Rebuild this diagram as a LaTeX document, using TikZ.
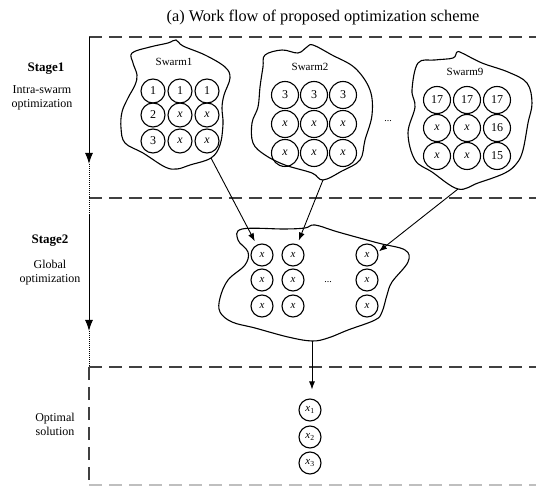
\documentclass[tikz,border=0pt]{standalone}
\usepackage{fontspec}
\setmainfont{Liberation Serif}
\usetikzlibrary{arrows.meta}
\tikzstyle{arrow} = [line width=0.9pt,-{Latex[length=8pt,width=6pt]}]
\tikzstyle{stagearrow} = [line width=1pt,-{Latex[length=11pt,width=8pt]}]
\tikzstyle{sep} = [line width=1.1pt,black!75,dash pattern=on 13pt off 7pt]
\tikzstyle{blob} = [line width=1.1pt]
\tikzstyle{particle} = [draw,circle,line width=1.1pt,inner sep=0pt,minimum size=27pt,font=\fontsize{12}{12}\selectfont]
\tikzstyle{small} = [particle,minimum size=22pt,font=\fontsize{11}{11}\selectfont]
\tikzstyle{label} = [align=center,font=\fontsize{12}{14}\selectfont]

\begin{document}
\begin{tikzpicture}[x=1pt,y=-1pt]
  \useasboundingbox (0,0) rectangle (536,486);

  \node[font=\fontsize{16.3}{16}\selectfont] (title) at (323,18) {(a) Work flow of proposed optimization scheme};

  % stage frames
  \draw[sep] (89,37) -- (536,37);
  \draw[sep] (89,198) -- (536,198);
  \draw[sep] (89,367) -- (536,367);
  \draw[sep,black!25] (89,485) -- (536,485);
  \draw[sep] (89,367) -- (89,486);

  \coordinate (st1a) at (89,37);
  \coordinate (st1b) at (89,164);
  \coordinate (st2a) at (89,215);
  \coordinate (st2b) at (89,331);
  \coordinate (st3a) at (89,367);
  \draw[stagearrow] (st1a) -- (st1b);
  \draw[line width=1pt,densely dotted] (st1b) -- (st2a);
  \draw[stagearrow] (st2a) -- (st2b);
  \draw[line width=1pt,densely dotted] (st2b) -- (st3a);

  \node[label,font=\fontsize{13}{14}\selectfont\bfseries] (stage1) at (46,69) {Stage1};
  \node[label] (desc1) at (42,98) {Intra-swarm\\optimization};
  \node[label,font=\fontsize{13}{14}\selectfont\bfseries] (stage2) at (50,241) {Stage2};
  \node[label] (desc2) at (50,273) {Global\\optimization};
  \node[label] (desc3) at (55,424) {Optimal\\solution};

  % swarm outlines
  \draw[blob] plot[smooth cycle,tension=0.6] coordinates {(132,53) (150,47) (168,43) (176,40) (183,46) (205,55) (225,67) (230,78) (224,95) (222,108) (223,124) (220,145) (211,158) (190,165) (177,169) (165,167) (143,153) (125,143) (121,128) (122,112) (128,98) (135,85) (137,75) (133,63)};
  \draw[blob] plot[smooth cycle,tension=0.6] coordinates {(265,55) (282,50) (298,53) (307,47) (313,45) (332,55) (355,68) (370,90) (372,115) (365,140) (360,160) (342,171) (323,180) (312,173) (285,165) (265,155) (253,143) (252,123) (258,107) (260,87) (263,67)};
  \draw[blob] plot[smooth cycle,tension=0.6] coordinates {(418,63) (435,60) (453,58) (457,52) (462,53) (482,63) (508,72) (527,83) (532,103) (528,123) (523,150) (517,163) (505,173) (478,183) (458,189) (432,172) (415,160) (408,133) (415,107) (412,90)};
  \draw[blob] plot[smooth cycle,tension=0.6] coordinates {(242,229) (285,229) (305,228) (315,225) (338,232) (378,243) (405,250) (408,262) (392,282) (387,295) (382,312) (375,320) (348,330) (328,338) (312,341) (288,337) (255,328) (232,322) (220,312) (220,298) (228,280) (245,265) (248,252) (238,240)};

  \coordinate (s1out) at (211,158);
  \coordinate (s2out) at (323,180);
  \coordinate (s9out) at (458,189);
  \coordinate (gout) at (312,341);

  \node[font=\fontsize{11}{11}\selectfont] (sw1) at (174,62) {Swarm1};
  \node[font=\fontsize{11}{11}\selectfont] (sw2) at (310,67) {Swarm2};
  \node[font=\fontsize{11}{11}\selectfont] (sw9) at (465,72) {Swarm9};
  \node[font=\fontsize{10}{10}\selectfont] (dots1) at (388,121) {...};

  % swarm 1
  \node[particle,minimum size=24pt] (a1) at (153,91) {1};
  \node[particle,minimum size=24pt] (a2) at (180,91) {1};
  \node[particle,minimum size=24pt] (a3) at (207,91) {1};
  \node[particle,minimum size=24pt] (a4) at (153,115) {2};
  \node[particle,minimum size=24pt] (a5) at (180,115) {\textit{x}};
  \node[particle,minimum size=24pt] (a6) at (207,115) {\textit{x}};
  \node[particle,minimum size=24pt] (a7) at (153,141) {3};
  \node[particle,minimum size=24pt] (a8) at (180,141) {\textit{x}};
  \node[particle,minimum size=24pt] (a9) at (207,141) {\textit{x}};

  % swarm 2
  \node[particle] (b1) at (285,95) {3};
  \node[particle] (b2) at (314,95) {3};
  \node[particle] (b3) at (343,95) {3};
  \node[particle] (b4) at (285,124) {\textit{x}};
  \node[particle] (b5) at (314,124) {\textit{x}};
  \node[particle] (b6) at (343,124) {\textit{x}};
  \node[particle] (b7) at (285,153) {\textit{x}};
  \node[particle] (b8) at (314,153) {\textit{x}};
  \node[particle] (b9) at (343,153) {\textit{x}};

  % swarm 9
  \node[particle] (c1) at (437,100) {17};
  \node[particle] (c2) at (467,100) {17};
  \node[particle] (c3) at (497,100) {17};
  \node[particle] (c4) at (437,128) {\textit{x}};
  \node[particle] (c5) at (467,128) {\textit{x}};
  \node[particle] (c6) at (497,128) {16};
  \node[particle] (c7) at (437,156) {\textit{x}};
  \node[particle] (c8) at (467,156) {\textit{x}};
  \node[particle] (c9) at (497,156) {15};

  % global
  \node[small] (g1) at (262,255) {\textit{x}};
  \node[small] (g2) at (293,255) {\textit{x}};
  \node[small] (g3) at (367,255) {\textit{x}};
  \node[small] (g4) at (262,280) {\textit{x}};
  \node[small] (g5) at (293,280) {\textit{x}};
  \node[small] (g6) at (367,280) {\textit{x}};
  \node[small] (g7) at (262,306) {\textit{x}};
  \node[small] (g8) at (293,306) {\textit{x}};
  \node[small] (g9) at (367,306) {\textit{x}};
  \node[font=\fontsize{10}{10}\selectfont] (dots2) at (328,282) {...};

  % optimal
  \node[small] (o1) at (310,410) {\textit{x}\textsubscript{1}};
  \node[small] (o2) at (310,437) {\textit{x}\textsubscript{2}};
  \node[small] (o3) at (310,463) {\textit{x}\textsubscript{3}};

  \draw[arrow,shorten >=4pt] (s1out) -- (g1);
  \draw[arrow,shorten >=4pt] (s2out) -- (g2);
  \draw[arrow,shorten >=1pt] (s9out) -- (g3.15);
  \draw[arrow,shorten >=9pt] (gout) -- (gout |- o1.north);
\end{tikzpicture}
\end{document}
